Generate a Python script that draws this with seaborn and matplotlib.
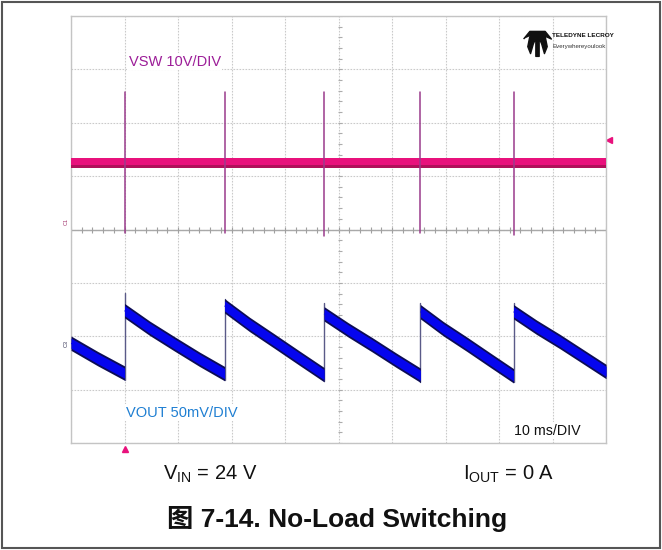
import numpy as np
import pandas as pd
import matplotlib
matplotlib.use("Agg")
import matplotlib.pyplot as plt
import seaborn as sns
from matplotlib.patches import Rectangle

# time in ms (10 ms/div), amplitude in screen divisions
switch_t = [10.0, 28.7, 47.3, 65.3, 82.7]

# VSW trace: flat level + switching spikes
vsw_t = [0.0, 100.0]
vsw_v = [1.25, 1.25]
vsw_spike_top = [2.58, 2.58, 2.58, 2.58, 2.58]
vsw_spike_bottom = [-0.06, -0.06, -0.13, -0.07, -0.10]

# VOUT trace: sawtooth (center of noise band)
vout_seg = [0, 0, 0,
            1, 1, 1, 1, 1,
            2, 2, 2, 2, 2,
            3, 3, 3, 3, 3,
            4, 4, 4, 4, 4,
            5, 5, 5, 5, 5]
vout_t = [0.0, 5.0, 10.0,
          10.0, 14.7, 19.3, 24.0, 28.7,
          28.7, 33.4, 38.0, 42.7, 47.3,
          47.3, 51.8, 56.3, 60.8, 65.3,
          65.3, 69.6, 74.0, 78.4, 82.7,
          82.7, 87.0, 91.4, 95.7, 100.0]
vout_v = [-2.13, -2.42, -2.69,
          -1.52, -1.85, -2.14, -2.43, -2.70,
          -1.43, -1.78, -2.09, -2.41, -2.72,
          -1.58, -1.88, -2.16, -2.45, -2.73,
          -1.54, -1.86, -2.15, -2.45, -2.74,
          -1.54, -1.83, -2.10, -2.38, -2.66]
vout_jump_top = [-1.19, -1.30, -1.37, -1.37, -1.37]

sns.set_style("white")
plt.rcParams["font.family"] = ["Liberation Sans", "Noto Sans CJK SC", "DejaVu Sans"]
plt.rcParams["mathtext.fontset"] = "custom"
plt.rcParams["mathtext.rm"] = "Liberation Sans"

df_vout = pd.DataFrame({"t": vout_t, "v": vout_v, "seg": vout_seg})
df_vsw = pd.DataFrame({"t": vsw_t, "v": vsw_v})

spk_rows = []
for i, t in enumerate(switch_t):
    spk_rows.append({"t": t, "v": vsw_spike_bottom[i], "id": i})
    spk_rows.append({"t": t, "v": vsw_spike_top[i], "id": i})
df_spk = pd.DataFrame(spk_rows)

jump_rows = []
for i, t in enumerate(switch_t):
    prev = df_vout[df_vout["seg"] == i]["v"].iloc[-1]
    jump_rows.append({"t": t, "v": prev - 0.12, "id": i})
    jump_rows.append({"t": t, "v": vout_jump_top[i], "id": i})
df_jump = pd.DataFrame(jump_rows)

fig = plt.figure(figsize=(6.62, 5.5), dpi=100)
ax = fig.add_axes([0.1073, 0.1945, 0.8082, 0.7764])

# graticule
ax.set_xlim(0, 100)
ax.set_ylim(-4, 4)
ax.set_xticks(np.arange(0, 101, 10))
ax.set_yticks(np.arange(-4, 5, 1))
ax.tick_params(length=0, labelbottom=False, labelleft=False)
ax.grid(True, color="#cacaca", lw=0.8, ls=(0, (1.5, 1.2)))
for s in ax.spines.values():
    s.set_color("#c4c4c4")
    s.set_linewidth(1.0)
ax.axhline(0, color="#a9a9a9", lw=1.0, zorder=1)
minor_x = np.arange(0, 100.1, 2)
ax.plot(minor_x, np.zeros_like(minor_x), ls="none", marker="|", ms=4,
        mew=0.8, color="#a0a0a0", zorder=1)
minor_y = np.arange(-4, 4.01, 0.2)
ax.plot(np.full_like(minor_y, 50.3), minor_y, ls="none", marker="_", ms=3,
        mew=0.8, color="#acacac", zorder=1)

# VSW
ax.fill_between(df_vsw["t"], df_vsw["v"] - 0.095, df_vsw["v"] + 0.095,
                color="#b0105a", lw=0, zorder=3)
ax.fill_between(df_vsw["t"], df_vsw["v"] - 0.04, df_vsw["v"] + 0.085,
                color="#e8117c", lw=0, zorder=3)
sns.lineplot(data=df_spk, x="t", y="v", units="id", estimator=None,
             color="#9a3b8c", lw=1.1, ax=ax, zorder=4)

# VOUT
for k, seg in df_vout.groupby("seg"):
    ax.fill_between(seg["t"], seg["v"] - 0.135, seg["v"] + 0.135,
                    color="#0c0c55", lw=0, zorder=3)
    ax.fill_between(seg["t"], seg["v"] - 0.095, seg["v"] + 0.095,
                    color="#0505ee", lw=0, zorder=3)
sns.lineplot(data=df_vout, x="t", y="v", units="seg", estimator=None,
             sort=False, color="#0505ee", lw=0.8, ax=ax, zorder=3,
             solid_capstyle="butt")
sns.lineplot(data=df_jump, x="t", y="v", units="id", estimator=None,
             color="#5a5a88", lw=1.0, ax=ax, zorder=2)
ax.set_xlabel("")
ax.set_ylabel("")

# markers
ax.plot([100.6], [1.68], marker="<", ms=4, color="#e8117c", clip_on=False, ls="none")
ax.plot([10.0], [-4.12], marker="^", ms=4, color="#e8117c", clip_on=False, ls="none")
ax.text(-0.9, 0.15, "C1", fontsize=4, rotation=90, color="#a0306a",
        ha="center", va="center", clip_on=False)
ax.text(-0.9, -2.14, "C3", fontsize=4, rotation=90, color="#333355",
        ha="center", va="center", clip_on=False)

# labels on screen
ax.text(10.8, 3.14, "VSW 10V/DIV", fontsize=10.5, color="#9c1d98",
        ha="left", va="center", bbox=dict(fc="white", ec="none", pad=1), zorder=5)
ax.text(10.3, -3.43, "VOUT 50mV/DIV", fontsize=10.5, color="#1f7fd2",
        ha="left", va="center", bbox=dict(fc="white", ec="none", pad=1), zorder=5)
ax.text(82.8, -3.77, "10 ms/DIV", fontsize=10.3, color="#111111",
        ha="left", va="center", bbox=dict(fc="white", ec="none", pad=1), zorder=5)

# logo
logo = [(-1, 0.25), (-0.55, 0.8), (0.55, 0.8), (1, 0.25), (0.55, 0.45),
        (0.7, -0.3), (0.5, -0.8), (0.3, -0.1), (0.12, 0.3), (0.12, -1),
        (-0.12, -1), (-0.12, 0.3), (-0.3, -0.1), (-0.5, -0.8), (-0.7, -0.3),
        (-0.55, 0.45)]
ax.plot([87.1], [3.52], marker=logo, ms=20, color="#111111", ls="none", zorder=5)
ax.text(89.9, 3.64, "TELEDYNE LECROY", fontsize=4.6, fontweight="bold",
        family=["Liberation Sans Narrow", "Liberation Sans"],
        color="#111111", ha="left", va="center", zorder=5)
ax.text(89.9, 3.43, "Everywhereyoulook", fontsize=4.4,
        family=["Liberation Sans Narrow", "Liberation Sans"], color="#333333",
        ha="left", va="center", zorder=5)

# text below the screen
fig.text(0.2462, 0.1285, r"V$_\mathregular{IN}$ = 24 V", fontsize=14.5,
         ha="left", va="baseline", color="#111111")
fig.text(0.6994, 0.1285, r"I$_\mathregular{OUT}$ = 0 A", fontsize=14.5,
         ha="left", va="baseline", color="#111111")
fig.text(0.509, 0.0424, "图 7-14. No-Load Switching", fontsize=19,
         fontweight="bold", ha="center", va="baseline", color="#111111")

fig.patches.append(Rectangle((0.003, 0.0036), 0.994, 0.993, transform=fig.transFigure,
                             fill=False, ec="#555555", lw=1.5))

fig.savefig("out.png", dpi=100)
